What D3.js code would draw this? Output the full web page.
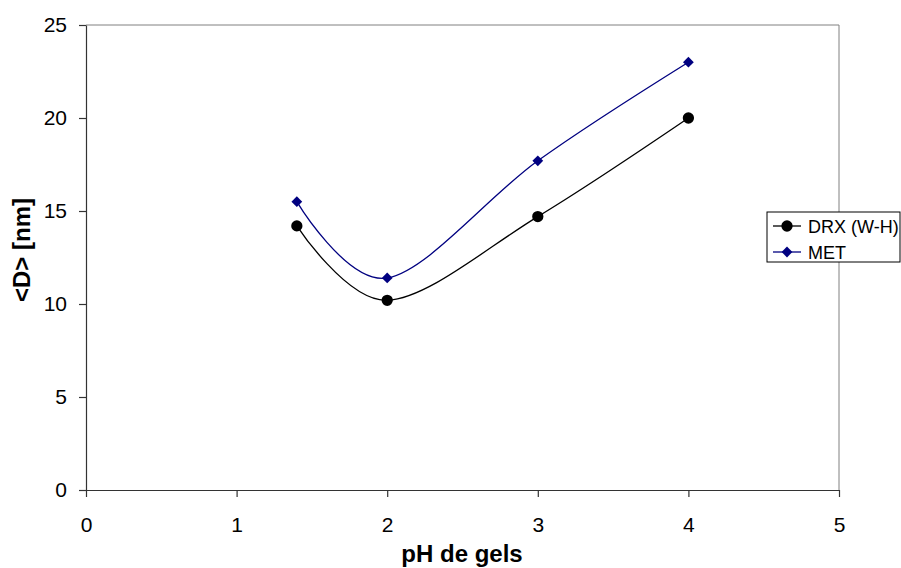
<!DOCTYPE html>
<html><head><meta charset="utf-8">
<script src="https://cdn.jsdelivr.net/npm/d3@7"></script>
<style>body{margin:0;background:#fff}svg{display:block;font-family:Arial,"Liberation Sans",sans-serif}</style>
</head><body><svg id="c" width="901" height="568"></svg>
<script>
const phValues = [1.4, 2, 3, 4];
const drxValues = [14.2, 10.2, 14.7, 20.0];
const metValues = [15.5, 11.4, 17.7, 23.0];
const seriesNames = ["DRX (W-H)", "MET"];
const xTicks = [0, 1, 2, 3, 4, 5];
const yTicks = [0, 5, 10, 15, 20, 25];
const xTitle = "pH de gels";
const yTitle = "<D> [nm]";

const svg = d3.select("#c");
const L = 86, R = 839, T = 25, B = 490;
const x = d3.scaleLinear().domain([0, 5]).range([L, R]);
const y = d3.scaleLinear().domain([0, 25]).range([B, T]);

// plot frame (top and right gray)
svg.append("line").attr("x1", L).attr("x2", R).attr("y1", T).attr("y2", T).attr("stroke", "#808080").attr("stroke-width", 1);
svg.append("line").attr("x1", R).attr("x2", R).attr("y1", T).attr("y2", B).attr("stroke", "#808080").attr("stroke-width", 1);

const xAxis = svg.append("g").attr("transform", `translate(0,${B})`)
  .call(d3.axisBottom(x).tickValues(xTicks).tickFormat(d3.format("d")).tickSizeInner(7).tickSizeOuter(0).tickPadding(20));
const yAxis = svg.append("g").attr("transform", `translate(${L},0)`)
  .call(d3.axisLeft(y).tickValues(yTicks).tickFormat(d3.format("d")).tickSizeInner(7).tickSizeOuter(0).tickPadding(12));
[xAxis, yAxis].forEach(g => {
  g.selectAll("path, line").attr("stroke", "#333").attr("stroke-width", 1.2);
  g.selectAll("text").attr("font-size", 21).attr("fill", "#000").attr("font-family", "Arial, 'Liberation Sans', sans-serif");
});

svg.append("text").attr("x", 462).attr("y", 562).attr("text-anchor", "middle")
  .attr("font-size", 24).attr("font-weight", "bold").text(xTitle);
svg.append("text").attr("transform", `translate(30,250) rotate(-90)`).attr("text-anchor", "middle")
  .attr("font-size", 24).attr("font-weight", "bold").text(yTitle);

const series = [
  {name: seriesNames[0], values: drxValues, color: "#000000", marker: "circle"},
  {name: seriesNames[1], values: metValues, color: "#000080", marker: "diamond"}
];
const line = d3.line().x(d => x(d[0])).y(d => y(d[1])).curve(d3.curveCardinal.tension(0));
const circ = d3.symbol().type(d3.symbolCircle).size(100);
const diam = d3.symbol().type(d3.symbolSquare).size(58);

function marker(g, s, cx, cy) {
  if (s.marker === "circle") g.append("path").attr("d", circ()).attr("transform", `translate(${cx},${cy})`).attr("fill", s.color);
  else g.append("path").attr("d", diam()).attr("transform", `translate(${cx},${cy}) rotate(45)`).attr("fill", s.color);
}

series.forEach(s => {
  const pts = phValues.map((p, i) => [p, s.values[i]]);
  svg.append("path").attr("d", line(pts)).attr("fill", "none").attr("stroke", s.color).attr("stroke-width", 1.3);
  const g = svg.append("g");
  pts.forEach(p => marker(g, s, x(p[0]), y(p[1])));
});

// legend
const lg = svg.append("g");
lg.append("rect").attr("x", 767).attr("y", 212).attr("width", 133).attr("height", 50)
  .attr("fill", "#fff").attr("stroke", "#000").attr("stroke-width", 1);
series.forEach((s, i) => {
  const yy = 226 + i * 26;
  lg.append("line").attr("x1", 773).attr("x2", 801).attr("y1", yy).attr("y2", yy).attr("stroke", s.color).attr("stroke-width", 1.3);
  marker(lg, s, 787, yy);
  lg.append("text").attr("x", 808).attr("y", yy + 6.5).attr("font-size", 18).text(s.name);
});
</script></body></html>
